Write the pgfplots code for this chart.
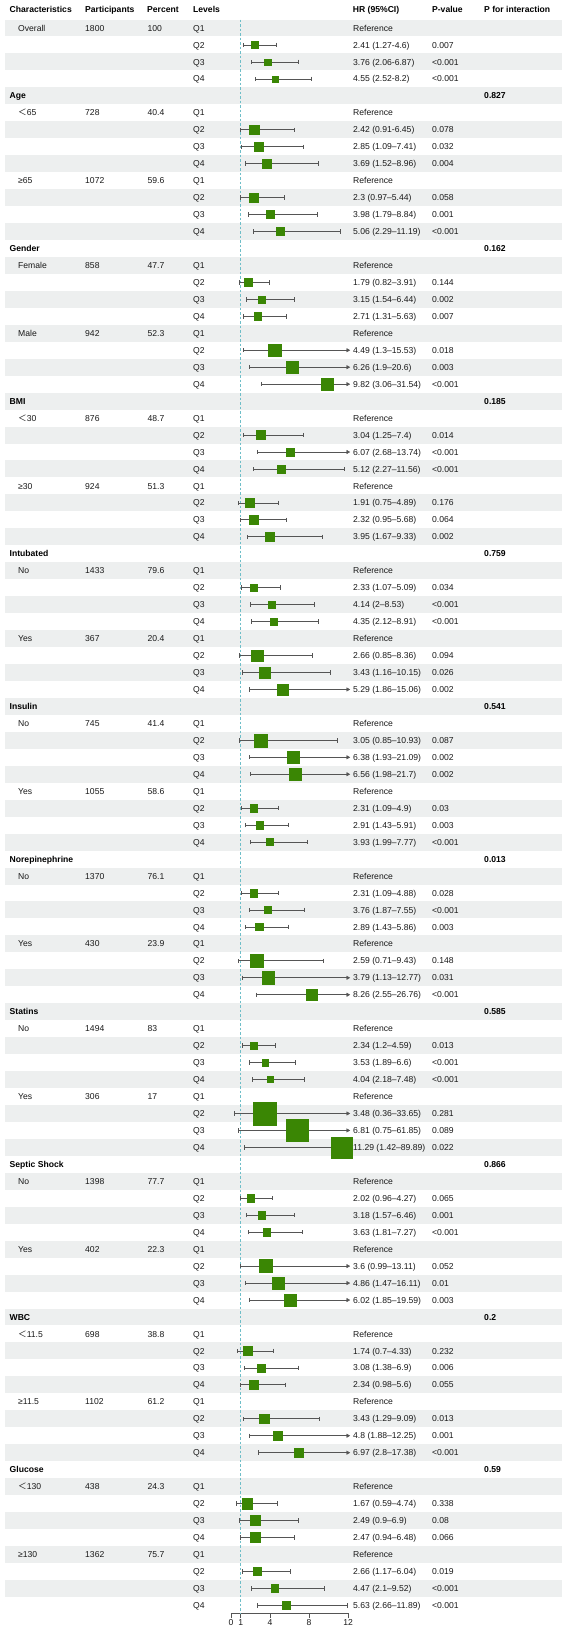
\documentclass[border=0pt]{standalone}
\usepackage{fontspec}
\setmainfont{Liberation Sans}
\newfontfamily\cjk{Noto Sans CJK SC}
\usepackage{pgfplots}
\pgfplotsset{compat=1.18}
\usepackage{pgfplotstable}

\definecolor{band}{RGB}{237,239,239}
\definecolor{boxgreen}{RGB}{58,134,4}
\definecolor{ci}{RGB}{85,85,85}
\definecolor{refline}{RGB}{110,190,200}
\definecolor{txtcol}{RGB}{25,25,25}

% hazard ratios per quartile (row = table line, Q1 is the reference)
\pgfplotstableread{
row hr lo hi
1 2.41 1.27 4.6
2 3.76 2.06 6.87
3 4.55 2.52 8.2
6 2.42 0.91 6.45
7 2.85 1.09 7.41
8 3.69 1.52 8.96
10 2.3 0.97 5.44
11 3.98 1.79 8.84
12 5.06 2.29 11.19
15 1.79 0.82 3.91
16 3.15 1.54 6.44
17 2.71 1.31 5.63
19 4.49 1.3 15.53
20 6.26 1.9 20.6
21 9.82 3.06 31.54
24 3.04 1.25 7.4
25 6.07 2.68 13.74
26 5.12 2.27 11.56
28 1.91 0.75 4.89
29 2.32 0.95 5.68
30 3.95 1.67 9.33
33 2.33 1.07 5.09
34 4.14 2 8.53
35 4.35 2.12 8.91
37 2.66 0.85 8.36
38 3.43 1.16 10.15
39 5.29 1.86 15.06
42 3.05 0.85 10.93
43 6.38 1.93 21.09
44 6.56 1.98 21.7
46 2.31 1.09 4.9
47 2.91 1.43 5.91
48 3.93 1.99 7.77
51 2.31 1.09 4.88
52 3.76 1.87 7.55
53 2.89 1.43 5.86
55 2.59 0.71 9.43
56 3.79 1.13 12.77
57 8.26 2.55 26.76
60 2.34 1.2 4.59
61 3.53 1.89 6.6
62 4.04 2.18 7.48
64 3.48 0.36 33.65
65 6.81 0.75 61.85
66 11.29 1.42 89.89
69 2.02 0.96 4.27
70 3.18 1.57 6.46
71 3.63 1.81 7.27
73 3.6 0.99 13.11
74 4.86 1.47 16.11
75 6.02 1.85 19.59
78 1.74 0.7 4.33
79 3.08 1.38 6.9
80 2.34 0.98 5.6
82 3.43 1.29 9.09
83 4.8 1.88 12.25
84 6.97 2.8 17.38
87 1.67 0.59 4.74
88 2.49 0.9 6.9
89 2.47 0.94 6.48
91 2.66 1.17 6.04
92 4.47 2.1 9.52
93 5.63 2.66 11.89
}\hrdata

% column positions in HR units of the forest axis
\def\cGrp{-22.67}
\def\cName{-21.80}
\def\cN{-14.94}
\def\cPct{-8.55}
\def\cLev{-3.89}
\def\cHR{12.49}
\def\cP{20.57}
\def\cPint{25.90}
\def\yHead{1.09}

\tikzset{
  txt/.style={anchor=west, inner sep=0pt, text height=6.2pt, text depth=0pt,
    font=\fontsize{8.6}{10}\selectfont, text=txtcol},
  btxt/.style={txt, font=\fontsize{8.6}{10}\selectfont\bfseries, text=black},
}
\newcommand\T[3]{\node[txt] at (axis cs:#1,-#2) {#3};}
\newcommand\B[3]{\node[btxt] at (axis cs:#1,-#2) {#3};}
\newcommand\grp[3]{\B{\cGrp}{#1}{#2}\B{\cPint}{#1}{#3}}
\newcommand\subgrp[4]{\T{\cName}{#1}{#2}\T{\cN}{#1}{#3}\T{\cPct}{#1}{#4}\T{\cLev}{#1}{Q1}\T{\cHR}{#1}{Reference}}
\newcommand\est[4]{\T{\cLev}{#1}{#2}\T{\cHR}{#1}{#3}\T{\cP}{#1}{#4}}
\newcommand\lt{{\cjk ＜}}

\begin{document}
\begin{tikzpicture}
\begin{axis}[
  x=9.77pt, y=16.96pt,
  xmin=0, xmax=12, ymin=-93.47, ymax=1.651,
  axis x line*=bottom, axis y line=none,
  xtick={0,1,4,8,12},
  tick align=outside, major tick length=5pt,
  every tick/.style={ci, line width=0.6pt},
  x axis line style={ci, line width=0.6pt},
  xticklabel style={font=\fontsize{8.6}{10}\selectfont, text=txtcol, inner sep=1pt},
  /pgf/number format/assume math mode=true,
  clip=false,
]
% bounding frame of the whole figure
\path (axis cs:-23.64,1.651) rectangle (axis cs:34.39,-94.69);

% alternating row bands
\pgfplotsinvokeforeach{0,2,...,92}{
  \fill[band] ([yshift=8.48pt]axis cs:-23.13,-#1) rectangle ([yshift=-8.48pt]axis cs:33.85,-#1);
}

% reference line at HR = 1
\addplot[forget plot, refline, line width=0.6pt, dash pattern=on 2.5pt off 2pt]
  coordinates {(1,0.5) (1,-93.47)};

% confidence intervals inside the axis range
\addplot[forget plot, only marks, mark=none,
  restrict expr to domain={\thisrow{hi}}{0:12},
  error bars/.cd, x dir=both, x explicit, error mark=|,
  error bar style={ci, line width=0.7pt},
  error mark options={ci, line width=0.7pt, mark size=2.2pt}]
  table[x=hr, y expr=-\thisrow{row},
        x error plus expr=\thisrow{hi}-\thisrow{hr},
        x error minus expr=\thisrow{hr}-\thisrow{lo}] {\hrdata};

% confidence intervals running past 12: cap at the lower limit, arrow at 12
\addplot[forget plot, only marks, mark=|, mark size=2.2pt,
  mark options={ci, line width=0.7pt},
  restrict expr to domain={\thisrow{hi}}{12.001:1000},
  error bars/.cd, x dir=plus, x explicit, error mark=triangle*,
  error bar style={ci, line width=0.7pt},
  error mark options={ci, fill=ci, rotate=-90, mark size=2pt}]
  table[x=lo, y expr=-\thisrow{row},
        x error plus expr=12-\thisrow{lo}] {\hrdata};

% point estimates, box size follows the width of the interval
\addplot[forget plot, scatter, only marks, mark=square*,
  visualization depends on={2.525*ln(\thisrow{hi}/\thisrow{lo}) \as \halfside},
  scatter/use mapped color={draw=boxgreen, fill=boxgreen},
  scatter/@pre marker code/.append style={/tikz/mark size=\halfside}]
  table[x=hr, y expr=-\thisrow{row}] {\hrdata};

% column headers
\node[btxt] at (axis cs:\cGrp,\yHead) {Characteristics};
\node[btxt] at (axis cs:\cN,\yHead) {Participants};
\node[btxt] at (axis cs:-8.60,\yHead) {Percent};
\node[btxt] at (axis cs:\cLev,\yHead) {Levels};
\node[btxt] at (axis cs:12.46,\yHead) {HR (95\%CI)};
\node[btxt] at (axis cs:\cP,\yHead) {P-value};
\node[btxt] at (axis cs:\cPint,\yHead) {P for interaction};

\subgrp{0}{Overall}{1800}{100}
\est{1}{Q2}{2.41 (1.27-4.6)}{0.007}
\est{2}{Q3}{3.76 (2.06-6.87)}{<0.001}
\est{3}{Q4}{4.55 (2.52-8.2)}{<0.001}

\grp{4}{Age}{0.827}
\subgrp{5}{\lt65}{728}{40.4}
\est{6}{Q2}{2.42 (0.91-6.45)}{0.078}
\est{7}{Q3}{2.85 (1.09–7.41)}{0.032}
\est{8}{Q4}{3.69 (1.52–8.96)}{0.004}
\subgrp{9}{≥65}{1072}{59.6}
\est{10}{Q2}{2.3 (0.97–5.44)}{0.058}
\est{11}{Q3}{3.98 (1.79–8.84)}{0.001}
\est{12}{Q4}{5.06 (2.29–11.19)}{<0.001}

\grp{13}{Gender}{0.162}
\subgrp{14}{Female}{858}{47.7}
\est{15}{Q2}{1.79 (0.82–3.91)}{0.144}
\est{16}{Q3}{3.15 (1.54–6.44)}{0.002}
\est{17}{Q4}{2.71 (1.31–5.63)}{0.007}
\subgrp{18}{Male}{942}{52.3}
\est{19}{Q2}{4.49 (1.3–15.53)}{0.018}
\est{20}{Q3}{6.26 (1.9–20.6)}{0.003}
\est{21}{Q4}{9.82 (3.06–31.54)}{<0.001}

\grp{22}{BMI}{0.185}
\subgrp{23}{\lt30}{876}{48.7}
\est{24}{Q2}{3.04 (1.25–7.4)}{0.014}
\est{25}{Q3}{6.07 (2.68–13.74)}{<0.001}
\est{26}{Q4}{5.12 (2.27–11.56)}{<0.001}
\subgrp{27}{≥30}{924}{51.3}
\est{28}{Q2}{1.91 (0.75–4.89)}{0.176}
\est{29}{Q3}{2.32 (0.95–5.68)}{0.064}
\est{30}{Q4}{3.95 (1.67–9.33)}{0.002}

\grp{31}{Intubated}{0.759}
\subgrp{32}{No}{1433}{79.6}
\est{33}{Q2}{2.33 (1.07–5.09)}{0.034}
\est{34}{Q3}{4.14 (2–8.53)}{<0.001}
\est{35}{Q4}{4.35 (2.12–8.91)}{<0.001}
\subgrp{36}{Yes}{367}{20.4}
\est{37}{Q2}{2.66 (0.85–8.36)}{0.094}
\est{38}{Q3}{3.43 (1.16–10.15)}{0.026}
\est{39}{Q4}{5.29 (1.86–15.06)}{0.002}

\grp{40}{Insulin}{0.541}
\subgrp{41}{No}{745}{41.4}
\est{42}{Q2}{3.05 (0.85–10.93)}{0.087}
\est{43}{Q3}{6.38 (1.93–21.09)}{0.002}
\est{44}{Q4}{6.56 (1.98–21.7)}{0.002}
\subgrp{45}{Yes}{1055}{58.6}
\est{46}{Q2}{2.31 (1.09–4.9)}{0.03}
\est{47}{Q3}{2.91 (1.43–5.91)}{0.003}
\est{48}{Q4}{3.93 (1.99–7.77)}{<0.001}

\grp{49}{Norepinephrine}{0.013}
\subgrp{50}{No}{1370}{76.1}
\est{51}{Q2}{2.31 (1.09–4.88)}{0.028}
\est{52}{Q3}{3.76 (1.87–7.55)}{<0.001}
\est{53}{Q4}{2.89 (1.43–5.86)}{0.003}
\subgrp{54}{Yes}{430}{23.9}
\est{55}{Q2}{2.59 (0.71–9.43)}{0.148}
\est{56}{Q3}{3.79 (1.13–12.77)}{0.031}
\est{57}{Q4}{8.26 (2.55–26.76)}{<0.001}

\grp{58}{Statins}{0.585}
\subgrp{59}{No}{1494}{83}
\est{60}{Q2}{2.34 (1.2–4.59)}{0.013}
\est{61}{Q3}{3.53 (1.89–6.6)}{<0.001}
\est{62}{Q4}{4.04 (2.18–7.48)}{<0.001}
\subgrp{63}{Yes}{306}{17}
\est{64}{Q2}{3.48 (0.36–33.65)}{0.281}
\est{65}{Q3}{6.81 (0.75–61.85)}{0.089}
\est{66}{Q4}{11.29 (1.42–89.89)}{0.022}

\grp{67}{Septic Shock}{0.866}
\subgrp{68}{No}{1398}{77.7}
\est{69}{Q2}{2.02 (0.96–4.27)}{0.065}
\est{70}{Q3}{3.18 (1.57–6.46)}{0.001}
\est{71}{Q4}{3.63 (1.81–7.27)}{<0.001}
\subgrp{72}{Yes}{402}{22.3}
\est{73}{Q2}{3.6 (0.99–13.11)}{0.052}
\est{74}{Q3}{4.86 (1.47–16.11)}{0.01}
\est{75}{Q4}{6.02 (1.85–19.59)}{0.003}

\grp{76}{WBC}{0.2}
\subgrp{77}{\lt11.5}{698}{38.8}
\est{78}{Q2}{1.74 (0.7–4.33)}{0.232}
\est{79}{Q3}{3.08 (1.38–6.9)}{0.006}
\est{80}{Q4}{2.34 (0.98–5.6)}{0.055}
\subgrp{81}{≥11.5}{1102}{61.2}
\est{82}{Q2}{3.43 (1.29–9.09)}{0.013}
\est{83}{Q3}{4.8 (1.88–12.25)}{0.001}
\est{84}{Q4}{6.97 (2.8–17.38)}{<0.001}

\grp{85}{Glucose}{0.59}
\subgrp{86}{\lt130}{438}{24.3}
\est{87}{Q2}{1.67 (0.59–4.74)}{0.338}
\est{88}{Q3}{2.49 (0.9–6.9)}{0.08}
\est{89}{Q4}{2.47 (0.94–6.48)}{0.066}
\subgrp{90}{≥130}{1362}{75.7}
\est{91}{Q2}{2.66 (1.17–6.04)}{0.019}
\est{92}{Q3}{4.47 (2.1–9.52)}{<0.001}
\est{93}{Q4}{5.63 (2.66–11.89)}{<0.001}
\end{axis}
\end{tikzpicture}
\end{document}
